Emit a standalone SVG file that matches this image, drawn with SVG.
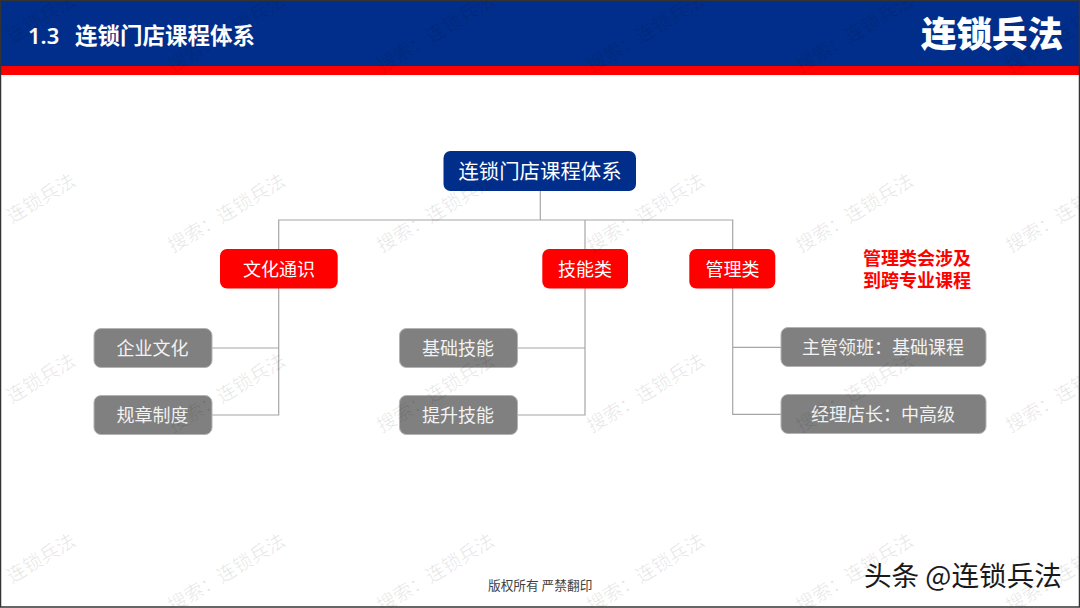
<svg xmlns="http://www.w3.org/2000/svg" width="1080" height="608" viewBox="0 0 1080 608">
<style>
text{font-family:"Noto Sans CJK SC","Noto Sans",sans-serif}
.box{stroke-width:1}
.root{fill:#002e8a}
.red{fill:#ff0000}
.gray{fill:#808080;stroke:#b3b3b3}
.nt{fill:#fff;font-size:18px;text-anchor:middle;dominant-baseline:central}
.gt{fill:#f2f2f2;font-size:18px;text-anchor:middle;dominant-baseline:central}
.wm{font-size:19px;fill:#000;fill-opacity:.09}
#connectors path{fill:none;stroke:#a6a6a6;stroke-width:1.2}
</style>
<rect width="1080" height="608" fill="#fff"/>
<g id="header">
<rect x="0" y="0" width="1080" height="67" fill="#002e8a"/>
<rect x="0" y="66" width="1080" height="9" fill="#ff0000"/>
<text x="28" y="44" fill="#fff" font-size="22" font-weight="600" style="font-family:'Noto Sans',sans-serif">1.3</text>
<text x="75" y="44" fill="#fff" font-size="22.500" font-weight="700">连锁门店课程体系</text>
<text x="921" y="47" fill="#fff" font-size="35.500" font-weight="900">连锁兵法</text>
</g>
<g id="connectors">
<path d="M540.300 191V220"/>
<path d="M278.700 249V220H732.700V249"/>
<path d="M585 220V249"/>
<path d="M278.700 288V415H212M278.700 348H212"/>
<path d="M585 288V415H517M585 348H517"/>
<path d="M732.700 288V414.300H781M732.700 347.300H781"/>
</g>
<g id="node-root"><rect class="root" x="443.500" y="151" width="192.500" height="40" rx="7"/><text class="nt" style="font-size:20.400px" x="540" y="170">连锁门店课程体系</text></g>
<g id="node-culture"><rect class="red" x="220" y="249" width="117.700" height="39.500" rx="7"/><text class="nt" x="279" y="267.500">文化通识</text></g>
<g id="node-skill"><rect class="red" x="542.300" y="249" width="85.700" height="39.500" rx="7"/><text class="nt" x="585" y="267.500">技能类</text></g>
<g id="node-manage"><rect class="red" x="689.300" y="249" width="86" height="39.500" rx="7"/><text class="nt" x="732.500" y="267.500">管理类</text></g>
<g id="node-c1"><rect class="gray box" x="94" y="328.500" width="118" height="39" rx="7"/><text class="gt" x="152.500" y="346.500">企业文化</text></g>
<g id="node-c2"><rect class="gray box" x="94" y="395.500" width="118" height="39" rx="7"/><text class="gt" x="152.500" y="413.500">规章制度</text></g>
<g id="node-s1"><rect class="gray box" x="399.500" y="328.500" width="118" height="39" rx="7"/><text class="gt" x="458" y="346.500">基础技能</text></g>
<g id="node-s2"><rect class="gray box" x="399.500" y="395.500" width="118" height="39" rx="7"/><text class="gt" x="458" y="413.500">提升技能</text></g>
<g id="node-m1"><rect class="gray box" x="781" y="327.500" width="205" height="39" rx="7"/><text class="gt" x="883" y="345.500">主管领班：基础课程</text></g>
<g id="node-m2"><rect class="gray box" x="781" y="394.500" width="205" height="39" rx="7"/><text class="gt" x="883" y="412.500">经理店长：中高级</text></g>
<g id="note" fill="#ff0000" font-size="18" font-weight="700" text-anchor="middle">
<text x="917" y="264.500">管理类会涉及</text>
<text x="917" y="286.500">到跨专业课程</text>
</g>
<text id="copyright" x="488" y="590" fill="#404040" font-size="12.700">版权所有 严禁翻印</text>
<text id="credit" x="864" y="586" fill="#1a1a1a" font-size="27.600">头条 @连锁兵法</text>
<g id="watermarks">
<text class="wm" transform="translate(-37 73) rotate(-31)">搜索：连锁兵法</text><text class="wm" transform="translate(173 73) rotate(-31)">搜索：连锁兵法</text><text class="wm" transform="translate(382 73) rotate(-31)">搜索：连锁兵法</text><text class="wm" transform="translate(592 73) rotate(-31)">搜索：连锁兵法</text><text class="wm" transform="translate(801 73) rotate(-31)">搜索：连锁兵法</text><text class="wm" transform="translate(1011 73) rotate(-31)">搜索：连锁兵法</text>
<text class="wm" transform="translate(-37 253) rotate(-31)">搜索：连锁兵法</text><text class="wm" transform="translate(173 253) rotate(-31)">搜索：连锁兵法</text><text class="wm" transform="translate(382 253) rotate(-31)">搜索：连锁兵法</text><text class="wm" transform="translate(592 253) rotate(-31)">搜索：连锁兵法</text><text class="wm" transform="translate(801 253) rotate(-31)">搜索：连锁兵法</text><text class="wm" transform="translate(1011 253) rotate(-31)">搜索：连锁兵法</text>
<text class="wm" transform="translate(-37 433) rotate(-31)">搜索：连锁兵法</text><text class="wm" transform="translate(173 433) rotate(-31)">搜索：连锁兵法</text><text class="wm" transform="translate(382 433) rotate(-31)">搜索：连锁兵法</text><text class="wm" transform="translate(592 433) rotate(-31)">搜索：连锁兵法</text><text class="wm" transform="translate(801 433) rotate(-31)">搜索：连锁兵法</text><text class="wm" transform="translate(1011 433) rotate(-31)">搜索：连锁兵法</text>
<text class="wm" transform="translate(-37 613) rotate(-31)">搜索：连锁兵法</text><text class="wm" transform="translate(173 613) rotate(-31)">搜索：连锁兵法</text><text class="wm" transform="translate(382 613) rotate(-31)">搜索：连锁兵法</text><text class="wm" transform="translate(592 613) rotate(-31)">搜索：连锁兵法</text><text class="wm" transform="translate(801 613) rotate(-31)">搜索：连锁兵法</text><text class="wm" transform="translate(1011 613) rotate(-31)">搜索：连锁兵法</text>
</g>
<rect id="frame" x="0.500" y="0.500" width="1079" height="606.500" fill="none" stroke="#333" stroke-width="1.500"/>
</svg>
